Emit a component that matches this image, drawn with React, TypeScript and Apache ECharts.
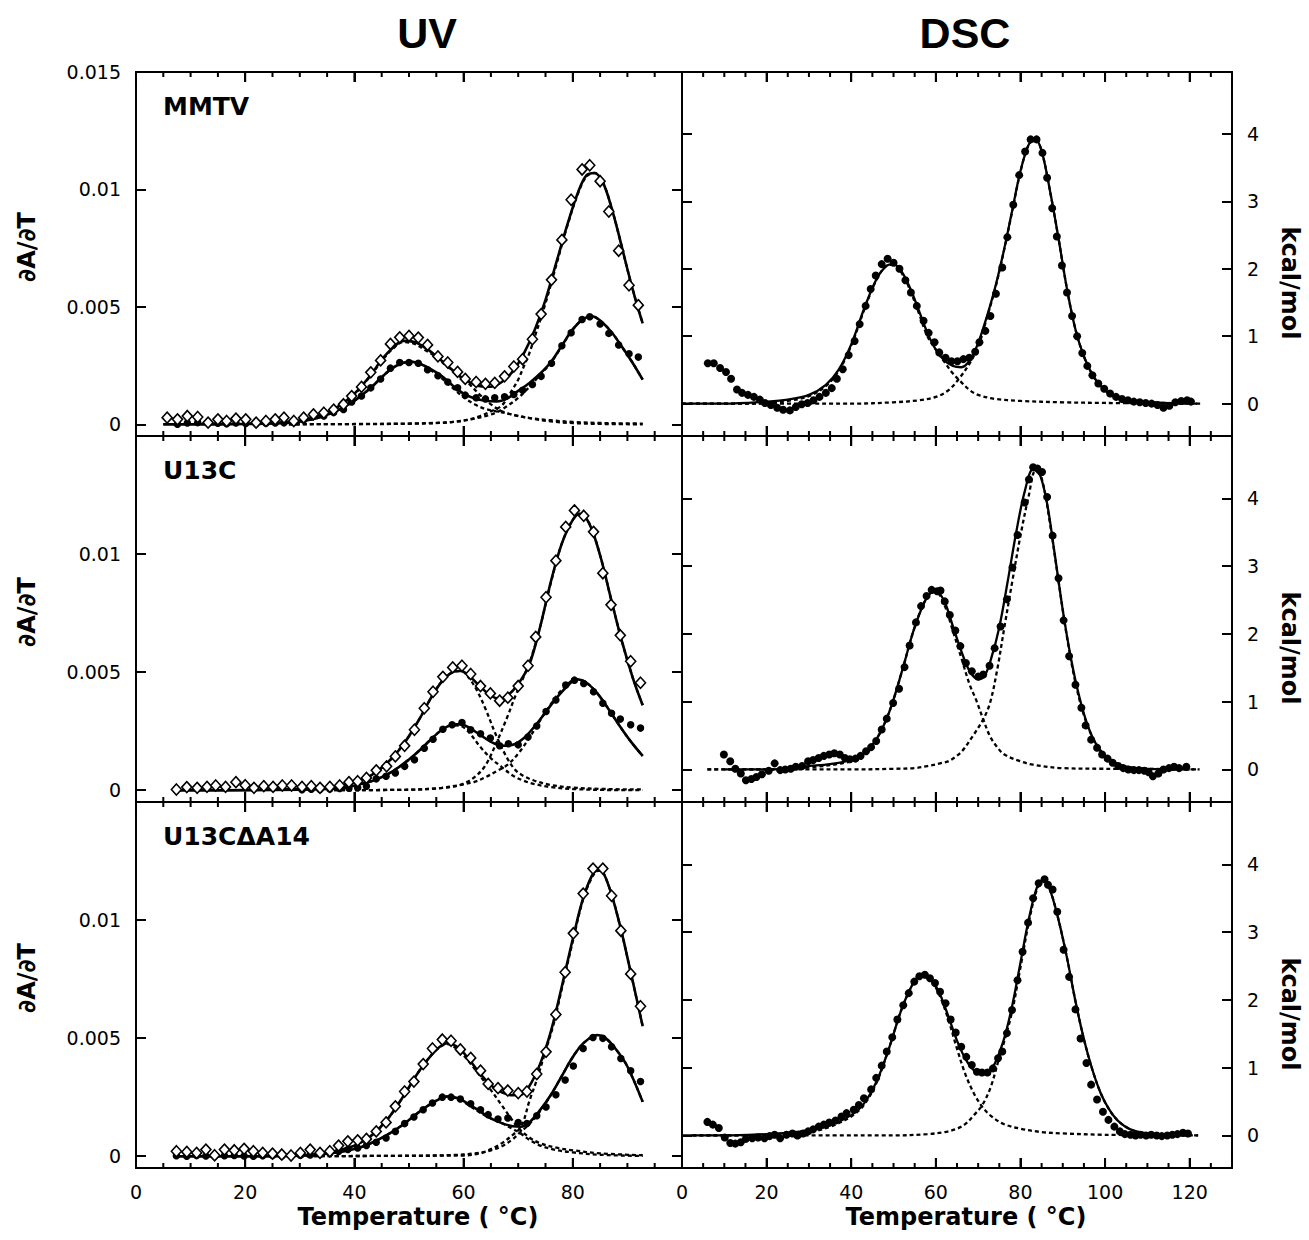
import React, { useEffect, useRef } from 'react';
import * as echarts from 'echarts';

type P = [number, number][];

// ---------- texts ----------
const COLUMN_TITLES = ['UV', 'DSC'];
const PANEL_LABELS = ['MMTV', 'U13C', 'U13CΔA14'];
const UV_Y_LABEL = '∂A/∂T';
const DSC_Y_LABEL = 'kcal/mol';
const X_LABEL = 'Temperature ( °C)';

// x tick positions (every 5 °C; multiples of 20 are major)
const UV_X_TICKS = [5, 10, 15, 20, 25, 30, 35, 40, 45, 50, 55, 60, 65, 70, 75, 80, 85, 90, 95];
const DSC_X_TICKS = [5, 10, 15, 20, 25, 30, 35, 40, 45, 50, 55, 60, 65, 70, 75, 80, 85, 90, 95, 100, 105, 110, 115, 120, 125];

// ---------- UV data (values in units of 1e-3) ----------
// Row 1: MMTV
const UV1_OPEN: P = [[5.7,0.28],[7.6,0.21],[9.4,0.35],[11.3,0.31],[13.2,0.07],[15.0,0.21],[16.6,0.14],[18.3,0.24],[20.1,0.21],[22.0,0.07],[23.8,0.14],[25.5,0.21],[27.1,0.28],[28.9,0.14],[30.7,0.28],[32.5,0.42],[34.4,0.49],[36.2,0.62],[38.0,0.85],[39.5,1.20],[41.3,1.59],[43.0,2.21],[44.8,2.72],[46.6,3.42],[48.3,3.70],[50.0,3.76],[51.7,3.69],[53.4,3.38],[55.3,2.89],[57.1,2.63],[58.9,2.23],[60.3,1.93],[62.3,1.80],[64.0,1.72],[65.7,1.76],[67.5,2.04],[69.2,2.46],[70.8,2.77],[72.6,3.62],[74.2,4.69],[76.1,6.15],[78.0,7.85],[79.7,9.56],[81.7,10.85],[83.1,11.03],[85.0,10.35],[86.6,9.06],[88.4,7.39],[90.3,5.92],[92.0,5.07]];
const UV1_FILLED: P = [[7.6,0.0],[9.4,0.05],[11.3,0.07],[13.2,0.03],[15.0,0.04],[16.6,0.02],[18.3,0.05],[20.1,0.03],[22.0,0.02],[23.8,0.04],[25.5,0.05],[27.1,0.06],[28.9,0.08],[30.7,0.18],[32.5,0.35],[34.4,0.35],[36.2,0.5],[38.0,0.63],[39.5,0.95],[41.3,1.2],[43.0,1.55],[44.8,1.93],[46.6,2.39],[48.3,2.63],[50.0,2.63],[51.7,2.60],[53.4,2.32],[55.3,2.07],[57.1,1.80],[58.9,1.55],[60.3,1.24],[62.3,1.13],[64.0,1.08],[65.7,1.13],[67.5,1.17],[69.2,1.27],[70.8,1.45],[72.6,1.69],[74.2,2.04],[76.1,2.60],[78.0,3.34],[79.7,3.90],[81.7,4.46],[83.1,4.58],[85.0,4.27],[86.6,3.87],[88.4,3.38],[90.3,3.00],[92.0,2.86]];
const UV1_OPEN_FIT: P = [[5,0],[10,0],[20,0.02],[25,0.05],[28,0.1],[31,0.2],[34,0.4],[37,0.75],[40,1.3],[43,2.1],[45,2.75],[47,3.25],[49,3.55],[51,3.5],[53,3.25],[55,2.9],[57,2.5],[59,2.1],[61,1.8],[63,1.62],[65,1.6],[67,1.8],[69,2.25],[71,3.0],[73,4.0],[75,5.3],[77,6.9],[79,8.5],[81,9.9],[82.5,10.6],[84,10.7],[85.5,10.3],[87,9.3],[88.5,8.0],[90,6.6],[91.5,5.3],[92.8,4.3]];
const UV1_FILLED_FIT: P = [[5,0],[10,0],[20,0.01],[25,0.03],[28,0.07],[31,0.15],[34,0.32],[37,0.6],[40,1.0],[43,1.55],[45,2.0],[47,2.4],[49,2.62],[50.5,2.66],[52,2.58],[54,2.35],[56,2.05],[58,1.65],[60,1.3],[62,1.1],[64,1.0],[66,0.97],[68,1.1],[70,1.42],[72,1.75],[74,2.15],[76,2.65],[78,3.35],[80,4.05],[82,4.5],[83.5,4.6],[85,4.42],[87,3.95],[89,3.3],[91,2.6],[92.8,1.9]];
const UV1_OPEN_C1: P = [[28,0.08],[31,0.18],[34,0.38],[37,0.73],[40,1.28],[43,2.07],[45,2.7],[47,3.2],[49,3.5],[51,3.42],[53,3.15],[55,2.85],[57,2.45],[59,2.1],[61,1.72],[63,1.25],[65,0.85],[67,0.55],[69,0.4],[72,0.27],[76,0.17],[80,0.1],[86,0.05],[92.8,0.03]];
const UV1_OPEN_C2: P = [[28,0],[40,0.01],[50,0.03],[55,0.06],[58,0.1],[61,0.2],[63,0.35],[65,0.55],[67,0.8],[69,1.5],[70,1.9],[71,2.45],[72,3.0],[73,3.7],[75,5.15],[77,6.8],[79,8.45],[81,9.85],[82.5,10.55],[84,10.7],[85.5,10.3],[87,9.3],[88.5,8.0],[90,6.6],[91.5,5.3],[92.8,4.3]];
const UV1_FILLED_C1: P = [[28,0.07],[31,0.15],[34,0.32],[37,0.6],[40,1.0],[43,1.55],[45,2.0],[47,2.4],[49,2.62],[50.5,2.66],[52,2.58],[54,2.3],[56,1.95],[58,1.55],[60,1.15],[62,0.85],[64,0.65],[66,0.55],[68,0.46],[70,0.36],[73,0.22],[76,0.12],[80,0.05],[86,0.01],[92.8,0]];
const UV1_FILLED_C2: P = [[28,0],[45,0.01],[52,0.03],[56,0.06],[59,0.12],[62,0.24],[64,0.35],[66,0.5],[68,0.78],[70,1.12],[72,1.58],[74,2.1],[76,2.62],[78,3.33],[80,4.03],[82,4.5],[83.5,4.6],[85,4.42],[87,3.95],[89,3.3],[91,2.6],[92.8,1.9]];

// Row 2: U13C
const UV2_OPEN: P = [[7.4,0.03],[9.3,0.13],[11.2,0.10],[13.0,0.14],[14.6,0.20],[16.4,0.14],[18.3,0.34],[20.0,0.21],[21.6,0.10],[23.4,0.17],[25.1,0.14],[26.8,0.20],[28.5,0.20],[30.4,0.14],[32.1,0.17],[33.7,0.10],[35.5,0.14],[37.3,0.20],[39.0,0.34],[40.6,0.38],[42.2,0.52],[44.0,0.84],[45.9,1.01],[47.5,1.43],[49.2,1.88],[51.0,2.56],[52.8,3.47],[54.4,4.17],[56.2,4.80],[58.0,5.20],[59.7,5.27],[61.3,4.92],[63.1,4.41],[64.9,4.10],[66.6,3.79],[68.1,3.92],[70.0,4.41],[71.8,5.27],[73.2,6.49],[75.1,8.17],[76.9,9.72],[78.7,11.15],[80.3,11.85],[82.0,11.62],[83.8,10.94],[85.5,9.19],[87.0,7.85],[88.7,6.56],[90.6,5.46],[92.4,4.55]];
const UV2_FILLED: P = [[30.4,0.02],[32.1,0.04],[33.7,0.03],[35.5,0.05],[37.3,0.07],[39.0,0.08],[40.6,0.10],[42.2,0.17],[44.0,0.48],[45.8,0.59],[47.5,0.73],[49.2,1.01],[51.0,1.29],[52.8,1.78],[54.4,2.16],[56.2,2.58],[57.9,2.77],[59.7,2.87],[61.3,2.56],[63.1,2.39],[64.9,2.21],[66.6,1.88],[68.2,1.97],[70.0,1.92],[71.8,2.25],[73.4,2.72],[75.1,3.33],[76.9,3.82],[78.7,4.45],[80.3,4.66],[82.0,4.52],[83.8,4.17],[85.5,3.68],[87.1,3.26],[88.7,3.01],[90.6,2.77],[92.4,2.63]];
const UV2_OPEN_FIT: P = [[7,0],[15,0],[25,0.03],[30,0.05],[35,0.12],[40,0.32],[43,0.62],[46,1.15],[49,1.95],[52,3.05],[54,3.9],[56,4.6],[58,5.0],[59.5,5.05],[61,4.85],[63,4.4],[65,4.0],[66.5,3.88],[68,4.0],[70,4.5],[72,5.3],[74,6.9],[76,8.85],[78,10.45],[80,11.45],[81.3,11.7],[83,11.3],[85,9.95],[87,8.1],[89,6.3],[91,4.75],[92.8,3.6]];
const UV2_FILLED_FIT: P = [[7,0],[20,0],[30,0.02],[35,0.05],[38,0.1],[41,0.25],[44,0.45],[47,0.8],[50,1.3],[52,1.7],[54,2.15],[56,2.55],[58,2.78],[59.5,2.8],[61,2.65],[63,2.35],[65,2.05],[67,1.88],[69,1.92],[71,2.2],[73,2.7],[75,3.3],[77,3.9],[79,4.4],[80.7,4.7],[82.5,4.55],[84.5,4.1],[86.5,3.45],[88.5,2.75],[90.5,2.1],[92.8,1.45]];
const UV2_OPEN_C1: P = [[35,0.12],[40,0.32],[43,0.62],[46,1.15],[49,1.95],[52,3.05],[54,3.9],[56,4.6],[58,5.0],[59.5,5.05],[61,4.75],[62.5,4.2],[64,3.45],[66,2.3],[68,1.35],[69.5,0.85],[71,0.6],[73,0.4],[76,0.22],[80,0.11],[86,0.05],[92.8,0.03]];
const UV2_OPEN_C2: P = [[35,0],[50,0.02],[55,0.07],[58,0.15],[60,0.28],[62,0.55],[64,1.05],[66,2.0],[68,3.1],[69.5,4.0],[71,4.8],[72.5,5.7],[74,6.9],[76,8.8],[78,10.45],[80,11.45],[81.3,11.7],[83,11.3],[85,9.95],[87,8.1],[89,6.3],[91,4.75],[92.8,3.6]];
const UV2_FILLED_C1: P = [[35,0.05],[38,0.1],[41,0.25],[44,0.45],[47,0.8],[50,1.3],[52,1.7],[54,2.15],[56,2.55],[58,2.75],[59.5,2.72],[61,2.45],[63,1.85],[65,1.35],[67,0.98],[69,0.62],[71,0.4],[73,0.26],[76,0.13],[80,0.05],[86,0.01],[92.8,0]];
const UV2_FILLED_C2: P = [[35,0],[50,0.02],[56,0.1],[60,0.25],[62,0.35],[64,0.55],[66,0.8],[68,1.07],[70,1.55],[72,2.2],[74,2.95],[76,3.65],[78,4.25],[80.7,4.7],[82.5,4.55],[84.5,4.1],[86.5,3.45],[88.5,2.75],[90.5,2.1],[92.8,1.45]];

// Row 3: U13CΔA14
const UV3_OPEN: P = [[7.4,0.21],[9.3,0.18],[11.1,0.14],[12.8,0.28],[14.4,0.04],[16.2,0.28],[18.0,0.25],[19.8,0.31],[21.5,0.21],[23.2,0.14],[25.0,0.11],[26.7,0.07],[28.4,0.03],[30.1,0.14],[31.9,0.28],[33.7,0.14],[35.5,0.21],[37.1,0.45],[38.8,0.63],[40.6,0.67],[42.2,0.73],[44.0,1.05],[45.8,1.43],[47.5,2.11],[49.2,2.74],[50.9,3.16],[52.6,3.90],[54.3,4.56],[56.1,4.94],[57.7,4.89],[59.4,4.52],[61.3,4.16],[63.1,3.62],[64.5,3.06],[66.3,2.88],[68.1,2.78],[70.0,2.67],[71.6,2.74],[73.4,3.48],[75.1,4.42],[76.9,6.00],[78.6,7.79],[80.1,9.44],[81.9,11.12],[83.7,12.18],[85.5,12.18],[87.1,11.03],[88.8,9.55],[90.6,7.72],[92.4,6.35]];
const UV3_FILLED: P = [[7.4,0.02],[9.3,0.0],[11.1,0.03],[12.8,0.01],[14.4,0.0],[16.2,0.02],[18.0,0.03],[19.8,0.01],[21.5,0.0],[23.2,0.02],[25.0,0.03],[26.7,0.01],[28.4,0.02],[30.1,0.04],[31.9,0.05],[33.7,0.08],[35.5,0.12],[37.1,0.2],[38.8,0.28],[40.6,0.35],[42.2,0.45],[44.0,0.59],[45.8,0.77],[47.5,1.05],[49.2,1.38],[50.9,1.66],[52.6,1.97],[54.3,2.25],[56.1,2.50],[57.7,2.50],[59.4,2.42],[61.3,2.22],[63.1,1.97],[64.5,1.76],[66.3,1.57],[68.1,1.62],[70.0,1.43],[71.6,1.38],[73.4,1.71],[75.1,2.08],[76.9,2.60],[78.6,3.23],[80.1,3.82],[81.9,4.56],[83.7,5.03],[85.5,4.99],[87.1,4.63],[88.8,4.14],[90.6,3.62],[92.4,3.16]];
const UV3_OPEN_FIT: P = [[7,0],[20,0],[30,0.03],[35,0.12],[38,0.3],[40,0.45],[43,0.85],[46,1.55],[49,2.55],[52,3.65],[55,4.5],[57,4.78],[59,4.6],[61,4.1],[63,3.5],[65,3.0],[67,2.7],[69,2.58],[70.5,2.6],[72,2.95],[74,3.9],[76,5.3],[78,7.2],[80,9.2],[82,11.0],[84,12.05],[85,12.1],[86.5,11.5],[88.5,9.9],[90.5,7.9],[92.8,5.5]];
const UV3_FILLED_FIT: P = [[7,0],[20,0],[30,0.02],[35,0.1],[40,0.3],[43,0.55],[46,0.9],[49,1.35],[52,1.9],[55,2.35],[57,2.53],[59,2.45],[61,2.2],[63,1.9],[65,1.6],[67,1.4],[69,1.27],[70.5,1.25],[72,1.42],[74,1.95],[76,2.6],[78,3.4],[80,4.2],[82,4.8],[84.5,5.13],[86,5.0],[88,4.5],[90,3.8],[92.8,2.3]];
const UV3_OPEN_C1: P = [[30,0.03],[35,0.12],[38,0.3],[40,0.45],[43,0.85],[46,1.55],[49,2.55],[52,3.65],[55,4.5],[57,4.75],[59,4.5],[61,4.0],[63,3.4],[65,2.8],[67,2.15],[69,1.5],[70,1.2],[72,0.8],[74,0.55],[77,0.36],[80,0.25],[85,0.12],[92.8,0.04]];
const UV3_OPEN_C2: P = [[30,0],[50,0.02],[58,0.05],[62,0.12],[64,0.2],[67,0.55],[69,0.9],[70.2,1.15],[71,1.5],[72,2.3],[73.5,3.3],[75,4.45],[76.5,5.6],[78,7.1],[80,9.1],[82,10.95],[84,12.0],[85,12.1],[86.5,11.5],[88.5,9.9],[90.5,7.9],[92.8,5.5]];
const UV3_FILLED_C1: P = [[30,0.02],[35,0.1],[40,0.3],[43,0.55],[46,0.9],[49,1.35],[52,1.9],[55,2.35],[57,2.53],[59,2.43],[61,2.15],[63,1.85],[65,1.6],[67,1.4],[69,1.15],[70.2,1.0],[72,0.7],[74,0.45],[77,0.26],[80,0.16],[85,0.06],[92.8,0.01]];
const UV3_FILLED_C2: P = [[30,0],[55,0.02],[60,0.03],[63,0.12],[65,0.25],[67,0.42],[69,0.72],[70.2,0.98],[72,1.35],[74,1.9],[76,2.6],[78,3.4],[80,4.2],[82,4.8],[84.5,5.13],[86,5.0],[88,4.5],[90,3.8],[92.8,2.3]];

// ---------- DSC data (kcal/mol) ----------
const DSC1_PTS: P = [[6.1,0.60],[7.5,0.60],[9.0,0.53],[10.4,0.47],[11.6,0.37],[13.0,0.21],[14.2,0.16],[15.6,0.13],[17.0,0.10],[18.4,0.06],[19.6,0.01],[21.0,-0.02],[22.5,-0.06],[23.9,-0.09],[25.5,-0.10],[26.9,-0.05],[28.3,-0.01],[29.7,0.01],[31.1,0.05],[32.5,0.10],[34.0,0.16],[35.4,0.23],[36.6,0.37],[38.0,0.51],[39.4,0.72],[40.8,0.93],[42.0,1.18],[43.4,1.45],[44.6,1.70],[45.8,1.90],[47.2,2.07],[48.6,2.15],[50.0,2.09],[51.4,2.00],[52.8,1.83],[54.1,1.65],[55.5,1.45],[57.1,1.23],[58.3,1.05],[59.7,0.91],[60.8,0.76],[62.3,0.68],[63.7,0.63],[65.1,0.63],[66.5,0.66],[67.9,0.68],[69.3,0.77],[70.3,0.91],[71.7,1.08],[72.9,1.30],[74.2,1.63],[75.7,2.02],[76.9,2.47],[78.3,2.95],[79.7,3.39],[81.1,3.74],[82.4,3.92],[83.8,3.92],[85.2,3.72],[86.3,3.35],[87.5,2.90],[88.6,2.48],[89.8,2.05],[91.0,1.65],[92.2,1.30],[93.4,1.00],[94.6,0.75],[95.8,0.56],[97.0,0.42],[98.4,0.30],[99.8,0.22],[101.2,0.15],[102.6,0.10],[104.0,0.07],[105.4,0.05],[106.8,0.03],[108.2,0.02],[109.6,0.01],[111.0,0.0],[112.4,-0.02],[113.8,-0.06],[115.2,-0.03],[116.6,0.02],[118.0,0.04],[119.4,0.05],[120.3,0.03]];
const DSC1_FIT: P = [[0,0],[10,0.0],[20,0.03],[25,0.06],[30,0.13],[34,0.28],[37,0.5],[40,0.88],[43,1.4],[46,1.85],[48.5,2.05],[50,2.07],[52,1.95],[54,1.7],[56,1.38],[58,1.05],[60,0.8],[62,0.64],[64,0.56],[66,0.54],[68,0.64],[70,0.9],[72,1.28],[74,1.72],[76,2.25],[78,2.85],[80,3.45],[82,3.85],[83.5,3.92],[85,3.75],[87,3.15],[89,2.45],[91,1.7],[93,1.1],[95,0.7],[97,0.43],[99,0.26],[101,0.15],[104,0.07],[108,0.03],[114,0.01],[119.5,0.0]];
const DSC1_C1: P = [[0,0],[15,0.0],[20,0.01],[25,0.04],[30,0.11],[34,0.26],[37,0.48],[40,0.86],[43,1.38],[46,1.84],[48.5,2.05],[50,2.06],[52,1.93],[54,1.67],[56,1.34],[58,1.0],[60,0.8],[62,0.62],[64,0.45],[66,0.32],[68,0.2],[70,0.13],[74,0.07],[80,0.04],[90,0.02],[100,0.01],[122.5,0]];
const DSC1_C2: P = [[0,0],[40,0.0],[50,0.02],[56,0.05],[60,0.1],[63,0.2],[65.6,0.38],[68.4,0.64],[70.3,0.9],[72,1.26],[74,1.7],[76,2.24],[78,2.84],[80,3.44],[82,3.85],[83.5,3.92],[85,3.75],[87,3.15],[89,2.45],[91,1.7],[93,1.1],[95,0.7],[97,0.43],[99,0.26],[101,0.15],[104,0.07],[108,0.03],[114,0.01],[122.5,0]];

const DSC2_PTS: P = [[9.9,0.22],[11.4,0.12],[12.6,0.01],[13.9,-0.06],[15.1,-0.16],[16.4,-0.14],[17.6,-0.11],[18.9,-0.07],[20.5,-0.02],[21.9,0.09],[23.2,-0.01],[24.4,0.0],[25.7,0.01],[26.9,0.04],[28.4,0.05],[29.8,0.12],[31.0,0.14],[32.3,0.17],[33.5,0.20],[34.8,0.22],[36.0,0.24],[37.3,0.22],[38.5,0.17],[39.7,0.15],[41.0,0.16],[42.2,0.20],[43.5,0.27],[44.7,0.33],[45.9,0.42],[47.2,0.59],[48.4,0.75],[49.9,0.98],[51.3,1.19],[52.6,1.51],[53.8,1.83],[55.3,2.17],[56.5,2.41],[57.8,2.56],[59.0,2.65],[60.3,2.63],[61.1,2.64],[62.1,2.48],[63.3,2.28],[64.6,2.05],[65.8,1.82],[67.1,1.57],[68.5,1.45],[70.0,1.37],[71.2,1.40],[72.7,1.53],[73.9,1.79],[75.3,2.11],[76.8,2.51],[78.1,2.98],[79.3,3.46],[81.0,3.94],[82.0,4.28],[83.0,4.46],[84.0,4.44],[85.1,4.39],[86.3,4.02],[87.6,3.45],[89.0,2.82],[90.2,2.20],[91.5,1.67],[93.0,1.25],[94.4,0.91],[95.4,0.65],[96.7,0.44],[98.1,0.32],[99.3,0.22],[100.6,0.16],[101.8,0.10],[103.1,0.05],[104.3,0.02],[105.5,0.0],[106.8,-0.01],[108.0,-0.01],[109.3,-0.02],[110.3,-0.04],[111.3,-0.10],[112.6,-0.06],[113.8,0.0],[115.1,0.02],[116.3,0.04],[117.5,0.02],[119.2,0.04]];
const DSC2_FIT: P = [[10,0],[20,0.0],[25,0.02],[30,0.05],[35,0.08],[40,0.14],[43,0.24],[46,0.45],[49,0.85],[52,1.45],[55,2.1],[58,2.55],[60,2.63],[62,2.48],[64,2.12],[66,1.75],[68,1.45],[70,1.33],[71.5,1.38],[73,1.62],[75,2.1],[77,2.78],[79,3.5],[81,4.1],[83,4.43],[84,4.42],[86,4.02],[88,3.22],[90,2.35],[92,1.62],[94,1.05],[96,0.63],[98,0.36],[100,0.19],[103,0.08],[106,0.03],[110,0.01],[120,0.0]];
const DSC2_C1: P = [[6,0],[20,0.0],[30,0.03],[40,0.12],[43,0.23],[46,0.45],[49,0.85],[52,1.45],[55,2.1],[58,2.55],[60,2.62],[62,2.43],[64,2.05],[66,1.65],[68,1.25],[69.5,1.03],[71.2,0.74],[72.8,0.49],[74.5,0.33],[76.2,0.22],[80,0.12],[83,0.07],[90,0.02],[100,0.01],[122.3,0]];
const DSC2_C2: P = [[6,0],[40,0.0],[50,0.01],[55,0.02],[58,0.05],[61,0.09],[62.9,0.12],[64.5,0.18],[66.2,0.27],[68.7,0.49],[71.2,0.74],[72.8,0.98],[74.5,1.47],[76.2,2.1],[78,2.75],[80,3.45],[82,4.05],[83.5,4.4],[85,4.3],[87,3.62],[89,2.78],[91,1.95],[93,1.28],[95,0.8],[97,0.48],[100,0.2],[103,0.08],[106,0.03],[110,0.01],[122.3,0]];

const DSC3_PTS: P = [[6.0,0.20],[7.3,0.16],[8.7,0.11],[10.1,-0.03],[11.4,-0.11],[12.6,-0.12],[13.9,-0.10],[15.1,-0.05],[16.6,-0.04],[18.0,-0.03],[19.5,-0.04],[20.7,-0.01],[21.9,0.01],[23.2,-0.04],[24.7,0.01],[26.1,0.03],[27.3,0.0],[28.6,0.03],[29.8,0.06],[31.0,0.09],[32.3,0.13],[33.5,0.16],[34.8,0.19],[36.3,0.22],[37.7,0.28],[38.9,0.33],[40.6,0.38],[41.8,0.45],[43.0,0.55],[44.7,0.68],[45.9,0.85],[47.2,1.03],[48.4,1.24],[49.7,1.45],[50.9,1.71],[52.3,1.92],[53.6,2.10],[54.9,2.27],[56.1,2.35],[57.4,2.37],[58.6,2.32],[59.8,2.25],[61.0,2.12],[62.3,1.95],[63.5,1.71],[64.7,1.52],[66.0,1.31],[67.2,1.16],[68.5,1.04],[69.7,0.94],[70.9,0.93],[72.2,0.93],[73.5,0.99],[74.7,1.14],[75.7,1.24],[76.8,1.51],[78.0,1.85],[79.3,2.29],[80.5,2.71],[81.8,3.14],[83.0,3.50],[84.3,3.72],[85.7,3.78],[86.5,3.70],[87.6,3.63],[88.7,3.30],[90.2,2.74],[91.5,2.34],[93.0,1.86],[94.2,1.43],[95.6,1.07],[96.7,0.75],[98.1,0.53],[99.5,0.35],[100.8,0.23],[102.2,0.13],[103.5,0.06],[104.7,0.02],[106.0,0.01],[107.2,0.0],[108.4,0.01],[109.7,0.0],[110.9,0.01],[112.2,0.0],[113.4,-0.01],[114.7,0.0],[115.9,0.01],[117.1,0.02],[118.4,0.04],[119.6,0.03]];
const DSC3_FIT: P = [[0,0],[10,0.0],[20,0.02],[25,0.04],[30,0.08],[35,0.15],[40,0.3],[43,0.47],[46,0.8],[49,1.3],[52,1.88],[55,2.28],[57,2.38],[59,2.3],[61,2.08],[63,1.75],[65,1.4],[67,1.13],[69,0.96],[71,0.9],[72.5,0.93],[74,1.07],[76,1.4],[78,1.9],[80,2.55],[82,3.2],[84,3.68],[85.5,3.78],[87,3.62],[89,3.18],[91,2.62],[93,1.98],[95,1.42],[97,0.97],[99,0.62],[101,0.38],[103,0.22],[106,0.09],[110,0.03],[115,0.01],[120,0]];
const DSC3_C1: P = [[2.5,0],[20,0.01],[30,0.05],[35,0.13],[40,0.28],[43,0.45],[46,0.78],[49,1.3],[52,1.88],[55,2.28],[57,2.38],[59,2.28],[61,2.05],[63,1.7],[65,1.28],[67,0.9],[69,0.62],[71,0.42],[73,0.29],[76,0.17],[80,0.1],[85,0.05],[90,0.03],[100,0.01],[122,0]];
const DSC3_C2: P = [[2.5,0],[50,0.0],[58,0.02],[62,0.05],[65,0.1],[67,0.17],[69,0.3],[71,0.45],[73,0.72],[75,1.15],[76,1.35],[78,1.82],[80,2.48],[82,3.15],[84,3.65],[85.5,3.76],[87,3.62],[89,3.18],[91,2.62],[93,1.98],[95,1.42],[97,0.97],[99,0.62],[101,0.38],[103,0.22],[106,0.09],[110,0.03],[115,0.01],[122,0]];

// ---------- grouping ----------
const UV_ROWS = [
  { open: UV1_OPEN, filled: UV1_FILLED, openFit: UV1_OPEN_FIT, filledFit: UV1_FILLED_FIT, comps: [UV1_OPEN_C1, UV1_OPEN_C2, UV1_FILLED_C1, UV1_FILLED_C2] },
  { open: UV2_OPEN, filled: UV2_FILLED, openFit: UV2_OPEN_FIT, filledFit: UV2_FILLED_FIT, comps: [UV2_OPEN_C1, UV2_OPEN_C2, UV2_FILLED_C1, UV2_FILLED_C2] },
  { open: UV3_OPEN, filled: UV3_FILLED, openFit: UV3_OPEN_FIT, filledFit: UV3_FILLED_FIT, comps: [UV3_OPEN_C1, UV3_OPEN_C2, UV3_FILLED_C1, UV3_FILLED_C2] },
];
const DSC_ROWS = [
  { pts: DSC1_PTS, fit: DSC1_FIT, comps: [DSC1_C1, DSC1_C2] },
  { pts: DSC2_PTS, fit: DSC2_FIT, comps: [DSC2_C1, DSC2_C2] },
  { pts: DSC3_PTS, fit: DSC3_FIT, comps: [DSC3_C1, DSC3_C2] },
];

const FONT = '"DejaVu Sans", Verdana, sans-serif';
const TITLE_FONT = '"Liberation Sans", Arial, Helvetica, sans-serif';

const COL_LEFT = [136, 682];
const COL_WIDTH = [546, 550];
const ROW_TOP = [72, 436, 802];
const ROW_H = [364, 366, 366];
const Y_RANGE = [[-0.5, 15], [-0.48, 4.92]];

function buildOption() {
  const grid: any[] = [];
  const xAxis: any[] = [];
  const yAxis: any[] = [];
  const series: any[] = [];
  const graphic: any[] = [];

  const tickStyle = { color: '#000', width: 2 };
  const axisLineStyle = { color: '#000', width: 1.8 };
  const labelStyle = { color: '#000', fontSize: 19, fontFamily: FONT };

  for (let r = 0; r < 3; r++) {
    for (let c = 0; c < 2; c++) {
      const g = r * 2 + c;
      grid[g] = { left: COL_LEFT[c], top: ROW_TOP[r], width: COL_WIDTH[c], height: ROW_H[r], show: true, borderColor: '#000', borderWidth: 1.8, backgroundColor: 'transparent', containLabel: false };
      const xmax = c === 0 ? 100 : 130;
      const showX = r === 2;
      const xFmt = (v: number) => {
        const n = Math.round(v);
        if (c === 0 && n >= 100) return '';
        if (c === 1 && n > 120) return '';
        return String(n);
      };
      const mkX = (pos: string, showLabel: boolean) => ({
        type: 'value', gridIndex: g, position: pos, min: 0, max: xmax, interval: 20,
        axisLine: { show: true, onZero: false, lineStyle: axisLineStyle }, splitLine: { show: false },
        axisTick: { show: true, inside: true, length: 10, lineStyle: tickStyle },
        axisLabel: { show: showLabel, formatter: xFmt, margin: 14, ...labelStyle },
      });
      xAxis[2 * g] = mkX('bottom', showX);
      xAxis[2 * g + 1] = mkX('top', false);

      const [ymin, ymax] = Y_RANGE[c];
      let split: number, fmt: (v: number) => string;
      if (c === 0) {
        split = 3;
        fmt = (v: number) => {
          const n = Math.round(v * 100) / 100;
          if (n < 0 || n % 5 !== 0) return '';
          if (r > 0 && n >= 15) return '';
          return n === 0 ? '0' : String(n / 1000);
        };
      } else {
        split = 5;
        fmt = (v: number) => {
          const n = Math.round(v * 100) / 100;
          return Number.isInteger(n) && n >= 0 ? String(Math.abs(n)) : '';
        };
      }
      const mkY = (pos: string, showLabel: boolean) => ({
        type: 'value', gridIndex: g, position: pos, min: ymin, max: ymax, splitNumber: split,
        axisLine: { show: true, onZero: false, lineStyle: axisLineStyle }, splitLine: { show: false },
        axisTick: { show: true, inside: true, length: 10, lineStyle: tickStyle },
        axisLabel: { show: showLabel, formatter: fmt, margin: 15, ...labelStyle },
      });
      yAxis[2 * g] = mkY('left', c === 0);
      yAxis[2 * g + 1] = mkY('right', c === 1);

      const base = { xAxisIndex: 2 * g, yAxisIndex: 2 * g, silent: true, animation: false };

      // x ticks as short vertical line segments drawn through the axes (broken by null points)
      const pxPerUnit = ROW_H[r] / (ymax - ymin);
      const tickData: any[] = [];
      const tickVals = c === 0 ? UV_X_TICKS : DSC_X_TICKS;
      for (const v of tickVals) {
        const len = (v % 20 === 0 ? 10 : 5) / pxPerUnit;
        tickData.push([v, ymin], [v, ymin + len], [v, null]);
        tickData.push([v, ymax], [v, ymax - len], [v, null]);
      }
      series.push({ ...base, type: 'line', data: tickData, symbol: 'none', showSymbol: false, connectNulls: false, clip: false, z: 20, lineStyle: { color: '#000', width: 2, type: 'solid', cap: 'butt' } });

      const dotted = (data: P) => ({ ...base, type: 'line', data, symbol: 'none', showSymbol: false, smooth: 0.35, z: 2, lineStyle: { color: '#000', width: 2.3, type: [4, 3] } });
      const solid = (data: P, w: number) => ({ ...base, type: 'line', data, symbol: 'none', showSymbol: false, smooth: 0.35, z: 3, lineStyle: { color: '#000', width: w, type: 'solid' } });
      const dots = (data: P, size: number) => ({ ...base, type: 'scatter', data, symbol: 'circle', symbolSize: size, z: 4, itemStyle: { color: '#000', opacity: 1 } });
      const diamonds = (data: P) => ({ ...base, type: 'scatter', data, symbol: 'diamond', symbolSize: [10, 11], z: 5, itemStyle: { color: '#fff', borderColor: '#000', borderWidth: 1.6, opacity: 1 } });

      if (c === 0) {
        const d = UV_ROWS[r];
        d.comps.forEach((cp) => series.push(dotted(cp)));
        series.push(solid(d.filledFit, 2.6));
        series.push(solid(d.openFit, 2.6));
        series.push(dots(d.filled, 7.5));
        series.push(diamonds(d.open));
      } else {
        const d = DSC_ROWS[r];
        d.comps.forEach((cp) => series.push(dotted(cp)));
        series.push(solid(d.fit, 2.3));
        series.push(dots(d.pts, 8));
      }

      // labels
      if (c === 0) {
        graphic.push({ type: 'text', x: 163, y: ROW_TOP[r] + 34, style: { text: PANEL_LABELS[r], fill: '#000', fontSize: 25, fontWeight: 'bold', fontFamily: FONT, align: 'left', verticalAlign: 'middle', textAlign: 'left', textVerticalAlign: 'middle' } });
        graphic.push({ type: 'text', x: 27, y: ROW_TOP[r] + ROW_H[r] / 2 - 7, rotation: Math.PI / 2, style: { text: UV_Y_LABEL, fill: '#000', fontSize: 24, fontWeight: 'bold', fontFamily: FONT, align: 'center', verticalAlign: 'middle', textAlign: 'center', textVerticalAlign: 'middle' } });
      } else {
        graphic.push({ type: 'text', x: 1290, y: ROW_TOP[r] + ROW_H[r] / 2 + 29, rotation: -Math.PI / 2, style: { text: DSC_Y_LABEL, fill: '#000', fontSize: 24, fontWeight: 'bold', fontFamily: FONT, align: 'center', verticalAlign: 'middle', textAlign: 'center', textVerticalAlign: 'middle' } });
      }
    }
  }

  const titleX = [427, 965];
  const xLabelX = [418, 966];
  for (let c = 0; c < 2; c++) {
    graphic.push({ type: 'text', x: titleX[c], y: 33, style: { text: COLUMN_TITLES[c], fill: '#000', fontSize: 43, fontWeight: 'bold', fontFamily: TITLE_FONT, align: 'center', verticalAlign: 'middle', textAlign: 'center', textVerticalAlign: 'middle' } });
    graphic.push({ type: 'text', x: xLabelX[c], y: 1217, style: { text: X_LABEL, fill: '#000', fontSize: 24, fontWeight: 'bold', fontFamily: FONT, align: 'center', verticalAlign: 'middle', textAlign: 'center', textVerticalAlign: 'middle' } });
  }

  return { animation: false, backgroundColor: '#fff', grid, xAxis, yAxis, series, graphic };
}

export default function App() {
  const ref = useRef<HTMLDivElement>(null);
  useEffect(() => {
    if (!ref.current) return;
    const chart = echarts.init(ref.current, undefined, { renderer: 'svg' });
    chart.setOption(buildOption() as any);
    return () => chart.dispose();
  }, []);
  return <div ref={ref} style={{ position: 'absolute', left: 0, top: 0, width: 1309, height: 1240, background: '#fff' }} />;
}
